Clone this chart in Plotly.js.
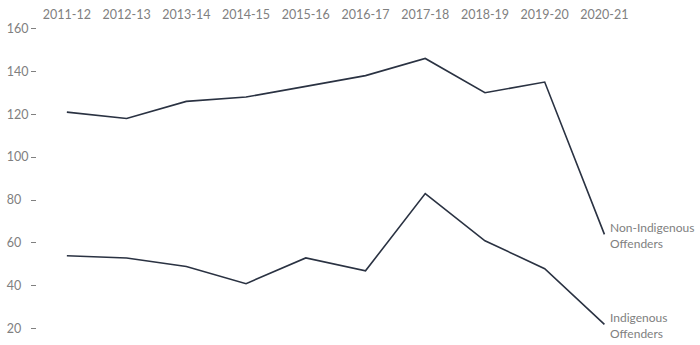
<!DOCTYPE html>
<html>
<head>
<meta charset="utf-8">
<script src="https://cdn.plot.ly/plotly-3.0.1.min.js"></script>
<style>html,body{margin:0;padding:0;background:#fff;}#chart{width:700px;height:345px;}</style>
</head>
<body>
<div id="chart"></div>
<script>
const years = ["2011-12","2012-13","2013-14","2014-15","2015-16","2016-17","2017-18","2018-19","2019-20","2020-21"];
const nonIndigenous = [121, 118, 126, 128, 133, 138, 146, 130, 135, 64];
const indigenous = [54, 53, 49, 41, 53, 47, 83, 61, 48, 22];
const yTickVals = [20, 40, 60, 80, 100, 120, 140, 160];
const yTickText = ["20\u2007", "40\u2007", "60\u2007", "80\u2007", "100", "120", "140", "160"];
const seriesNames = ["Non-Indigenous<br>Offenders", "Indigenous<br>Offenders"];

const lineColor = "#2a3242";
const textColor = "#808080";
const font = "Lato, 'Open Sans', sans-serif";

const xIdx = years.map((_, i) => i);
const seriesValues = [nonIndigenous, indigenous];

const traces = seriesValues.map(vals => ({
  x: xIdx, y: vals, mode: "lines", line: {color: lineColor, width: 1.6}, hoverinfo: "skip"
}));

const lastI = years.length - 1;
const annotations = seriesValues.map((vals, s) => ({
  x: lastI, y: vals[lastI], text: seriesNames[s],
  xref: "x", yref: "y", showarrow: false, xanchor: "left", yanchor: "middle",
  align: "left", xshift: 4, yshift: -1,
  font: {family: font, size: 12, color: textColor}
}));

const layout = {
  width: 700, height: 345,
  margin: {l: 37, r: 0, t: 22, b: 12},
  paper_bgcolor: "#fff", plot_bgcolor: "#fff",
  showlegend: false,
  font: {family: font, size: 12.5, color: textColor},
  xaxis: {
    side: "top", range: [-0.5, 10.6],
    tickmode: "array", tickvals: xIdx, ticktext: years,
    showgrid: false, zeroline: false, showline: false, ticks: "",
    tickfont: {family: font, size: 12.5, color: textColor}, fixedrange: true
  },
  yaxis: {
    range: [18, 163],
    tickmode: "array", tickvals: yTickVals, ticktext: yTickText,
    showgrid: false, zeroline: false, showline: false,
    ticks: "outside", ticklen: 5, tickwidth: 1, tickcolor: textColor,
    tickfont: {family: font, size: 12.5, color: textColor}, fixedrange: true
  },
  annotations: annotations
};

Plotly.newPlot("chart", traces, layout, {staticPlot: true, displayModeBar: false});
</script>
</body>
</html>
